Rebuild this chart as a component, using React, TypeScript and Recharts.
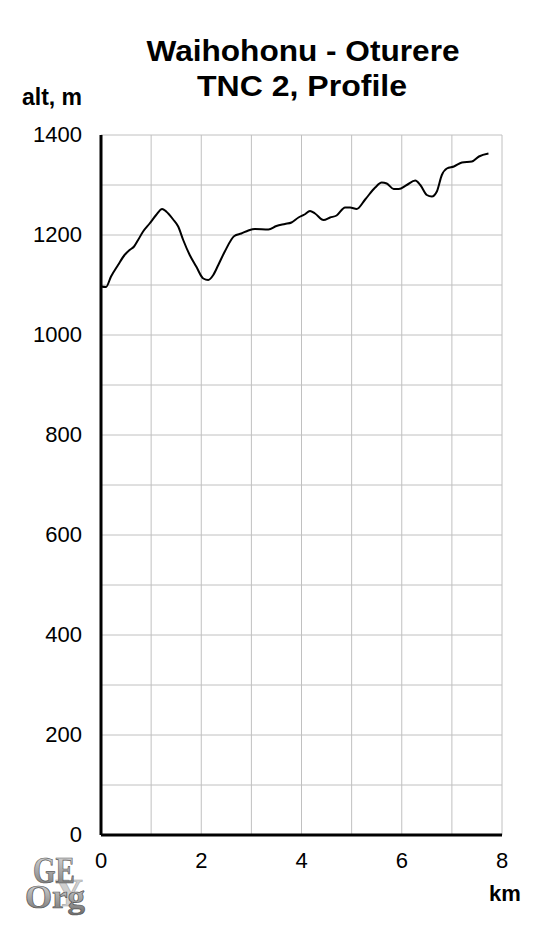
import { LineChart, Line, XAxis, YAxis, CartesianGrid } from "recharts";

// elevation profile
const distKm = [
  0.0, 0.1, 0.2, 0.34, 0.47, 0.57, 0.66, 0.74, 0.84, 0.97, 1.1, 1.22, 1.3, 1.44, 1.54,
  1.64, 1.77, 1.9, 2.04, 2.14, 2.24, 2.34, 2.47, 2.66, 2.8, 2.94, 3.07, 3.34, 3.5, 3.67,
  3.8, 3.94, 4.06, 4.17, 4.27, 4.44, 4.57, 4.7, 4.87, 4.97, 5.1, 5.27, 5.47, 5.6, 5.7,
  5.84, 5.94, 6.1, 6.27, 6.37, 6.5, 6.6, 6.7, 6.8, 6.9, 7.04, 7.2, 7.4, 7.54, 7.73,
];
const altM = [
  1097, 1096, 1117, 1140, 1160, 1170, 1177, 1190, 1207, 1223, 1240, 1252, 1247, 1231, 1217,
  1190, 1160, 1137, 1113, 1110, 1120, 1140, 1167, 1198, 1203, 1209, 1212, 1211, 1218, 1222,
  1225, 1235, 1241, 1248, 1243, 1230, 1235, 1239, 1255, 1255, 1252, 1271, 1295, 1305, 1303,
  1292, 1292, 1300, 1309, 1300, 1280, 1277, 1287, 1320, 1333, 1337, 1345, 1347, 1357, 1363,
];

const xTicks = [0, 1, 2, 3, 4, 5, 6, 7, 8];
const yTicks = [0, 100, 200, 300, 400, 500, 600, 700, 800, 900, 1000, 1100, 1200, 1300, 1400];

const data = distKm.map((km, i) => ({ km, alt: altM[i] }));

const FONT = "'Liberation Sans', Arial, sans-serif";

const XTick = ({ x, y, payload }: any) => {
  if (payload.value % 2 !== 0) return null;
  return (
    <text x={x} y={y + 17} textAnchor="middle" dominantBaseline="central" fontSize={22} fontFamily={FONT} fill="#000">
      {payload.value}
    </text>
  );
};

const YTick = ({ y, payload }: any) => {
  if (payload.value % 200 !== 0) return null;
  return (
    <text x={82} y={y - 1} textAnchor="end" dominantBaseline="central" fontSize={22} fontFamily={FONT} fill="#000">
      {payload.value}
    </text>
  );
};

const App = () => {
  return (
    <div style={{ position: "absolute", left: 0, top: 0, width: 550, height: 935, background: "#fff" }}>
      <LineChart width={550} height={935} data={data} margin={{ top: 135, right: 48, bottom: 60, left: 0 }}>
        <CartesianGrid stroke="#c0c0c0" strokeWidth={1} />
        <XAxis
          dataKey="km"
          type="number"
          domain={[0, 8]}
          ticks={xTicks}
          tick={<XTick />}
          tickLine={false}
          axisLine={{ stroke: "#000", strokeWidth: 3 }}
          height={40}
        />
        <YAxis
          type="number"
          domain={[0, 1400]}
          ticks={yTicks}
          tick={<YTick />}
          tickLine={false}
          axisLine={{ stroke: "#000", strokeWidth: 3 }}
          width={101}
        />
        <Line
          type="monotone"
          dataKey="alt"
          stroke="#000"
          strokeWidth={2}
          dot={false}
          isAnimationActive={false}
        />
      </LineChart>
      <svg width={550} height={935} style={{ position: "absolute", left: 0, top: 0, pointerEvents: "none" }}>
        <g fontFamily={FONT} fontWeight="bold" fill="#000">
          <text x={303} y={61} textAnchor="middle" fontSize={29} textLength={313} lengthAdjust="spacingAndGlyphs">
            Waihohonu - Oturere
          </text>
          <text x={302} y={96} textAnchor="middle" fontSize={29} textLength={210} lengthAdjust="spacingAndGlyphs">
            TNC 2, Profile
          </text>
          <text x={52} y={105} textAnchor="middle" fontSize={23}>alt, m</text>
          <text x={505} y={901} textAnchor="middle" fontSize={22}>km</text>
        </g>
        <defs>
          <linearGradient id="logoGrad" x1="0" y1="0" x2="0" y2="1">
            <stop offset="0%" stopColor="#e4e4e4" />
            <stop offset="100%" stopColor="#6e6e6e" />
          </linearGradient>
        </defs>
        {/* GEO.org logo, bottom-left */}
        <g fontFamily="'Liberation Serif', 'DejaVu Serif', serif" fontWeight="bold">
          <text x={69} y={906} textAnchor="middle" fontSize={40} fill="#cfcfcf" stroke="#a8a8a8" strokeWidth={0.6}
            textLength={28} lengthAdjust="spacingAndGlyphs">Y</text>
          <text x={54} y={883} textAnchor="middle" fontSize={37} fill="url(#logoGrad)" stroke="#555" strokeWidth={0.7}
            textLength={42} lengthAdjust="spacingAndGlyphs">GE</text>
          <text x={55} y={908} textAnchor="middle" fontSize={34} fill="url(#logoGrad)" stroke="#555" strokeWidth={0.7}
            textLength={60} lengthAdjust="spacingAndGlyphs">Org</text>
        </g>
      </svg>
    </div>
  );
};

export default App;
